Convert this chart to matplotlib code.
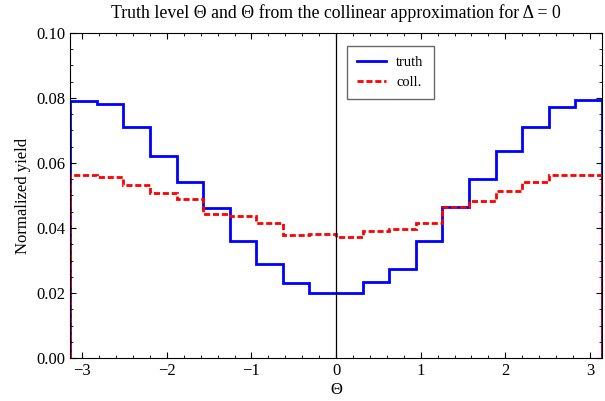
import numpy as np
import matplotlib.pyplot as plt
from matplotlib.ticker import MultipleLocator

plt.rcParams['font.family'] = ['Liberation Serif', 'DejaVu Serif']
plt.rcParams['mathtext.fontset'] = 'stix'

# bin edges: 20 bins over [-pi, pi]
edges = np.linspace(-np.pi, np.pi, 21)

# values
truth = [0.0792, 0.0782, 0.0710, 0.0622, 0.0542, 0.0462, 0.0359, 0.0289, 0.0230, 0.0201,
         0.0199, 0.0234, 0.0275, 0.0359, 0.0464, 0.0552, 0.0638, 0.0710, 0.0771, 0.0794]
coll = [0.0564, 0.0558, 0.0533, 0.0509, 0.0490, 0.0443, 0.0437, 0.0414, 0.0379, 0.0382,
        0.0373, 0.0390, 0.0396, 0.0414, 0.0464, 0.0484, 0.0515, 0.0542, 0.0562, 0.0564]

fig = plt.figure(figsize=(6.05, 4.01), dpi=100)
ax = fig.add_axes([0.116, 0.107, 0.879, 0.811])

ax.stairs(truth, edges, color='#0000ff', lw=2.0, label='truth')
ax.stairs(coll, edges, color='#ff0000', lw=2.0, ls=(0, (2.2, 1.0)), label='coll.')
ax.axvline(0, color='black', lw=0.9)

ax.set_xlim(-np.pi, np.pi)
ax.set_ylim(0, 0.10)
ax.xaxis.set_major_locator(MultipleLocator(1))
ax.xaxis.set_minor_locator(MultipleLocator(0.2))
ax.yaxis.set_major_locator(MultipleLocator(0.02))
ax.yaxis.set_minor_locator(MultipleLocator(0.005))
ax.set_yticklabels([f'{v:.2f}' for v in ax.get_yticks()])
ax.set_xticklabels([str(int(v)).replace('-', '\u2212') for v in ax.get_xticks()])
ax.tick_params(which='both', direction='in', top=True, right=True, labelsize=12)
ax.tick_params(which='major', length=4, width=0.8)
ax.tick_params(which='minor', length=2, width=0.6)
for s in ax.spines.values():
    s.set_linewidth(0.8)

ax.set_xlabel('\u0398', fontsize=12, labelpad=2)
ax.set_ylabel('Normalized yield', fontsize=12, labelpad=4)
ax.set_title('Truth level \u0398 and \u0398 from the collinear approximation for \u0394 = 0',
             fontsize=12.8, pad=11)

leg = ax.legend(loc='upper left', bbox_to_anchor=(0.52, 0.96), fontsize=10.5,
                frameon=True, fancybox=False, edgecolor='#444444', handlelength=2.0,
                handletextpad=0.7, borderpad=0.7, labelspacing=0.45, borderaxespad=0)
leg.get_frame().set_linewidth(1.0)

fig.savefig('out.png', dpi=100)
